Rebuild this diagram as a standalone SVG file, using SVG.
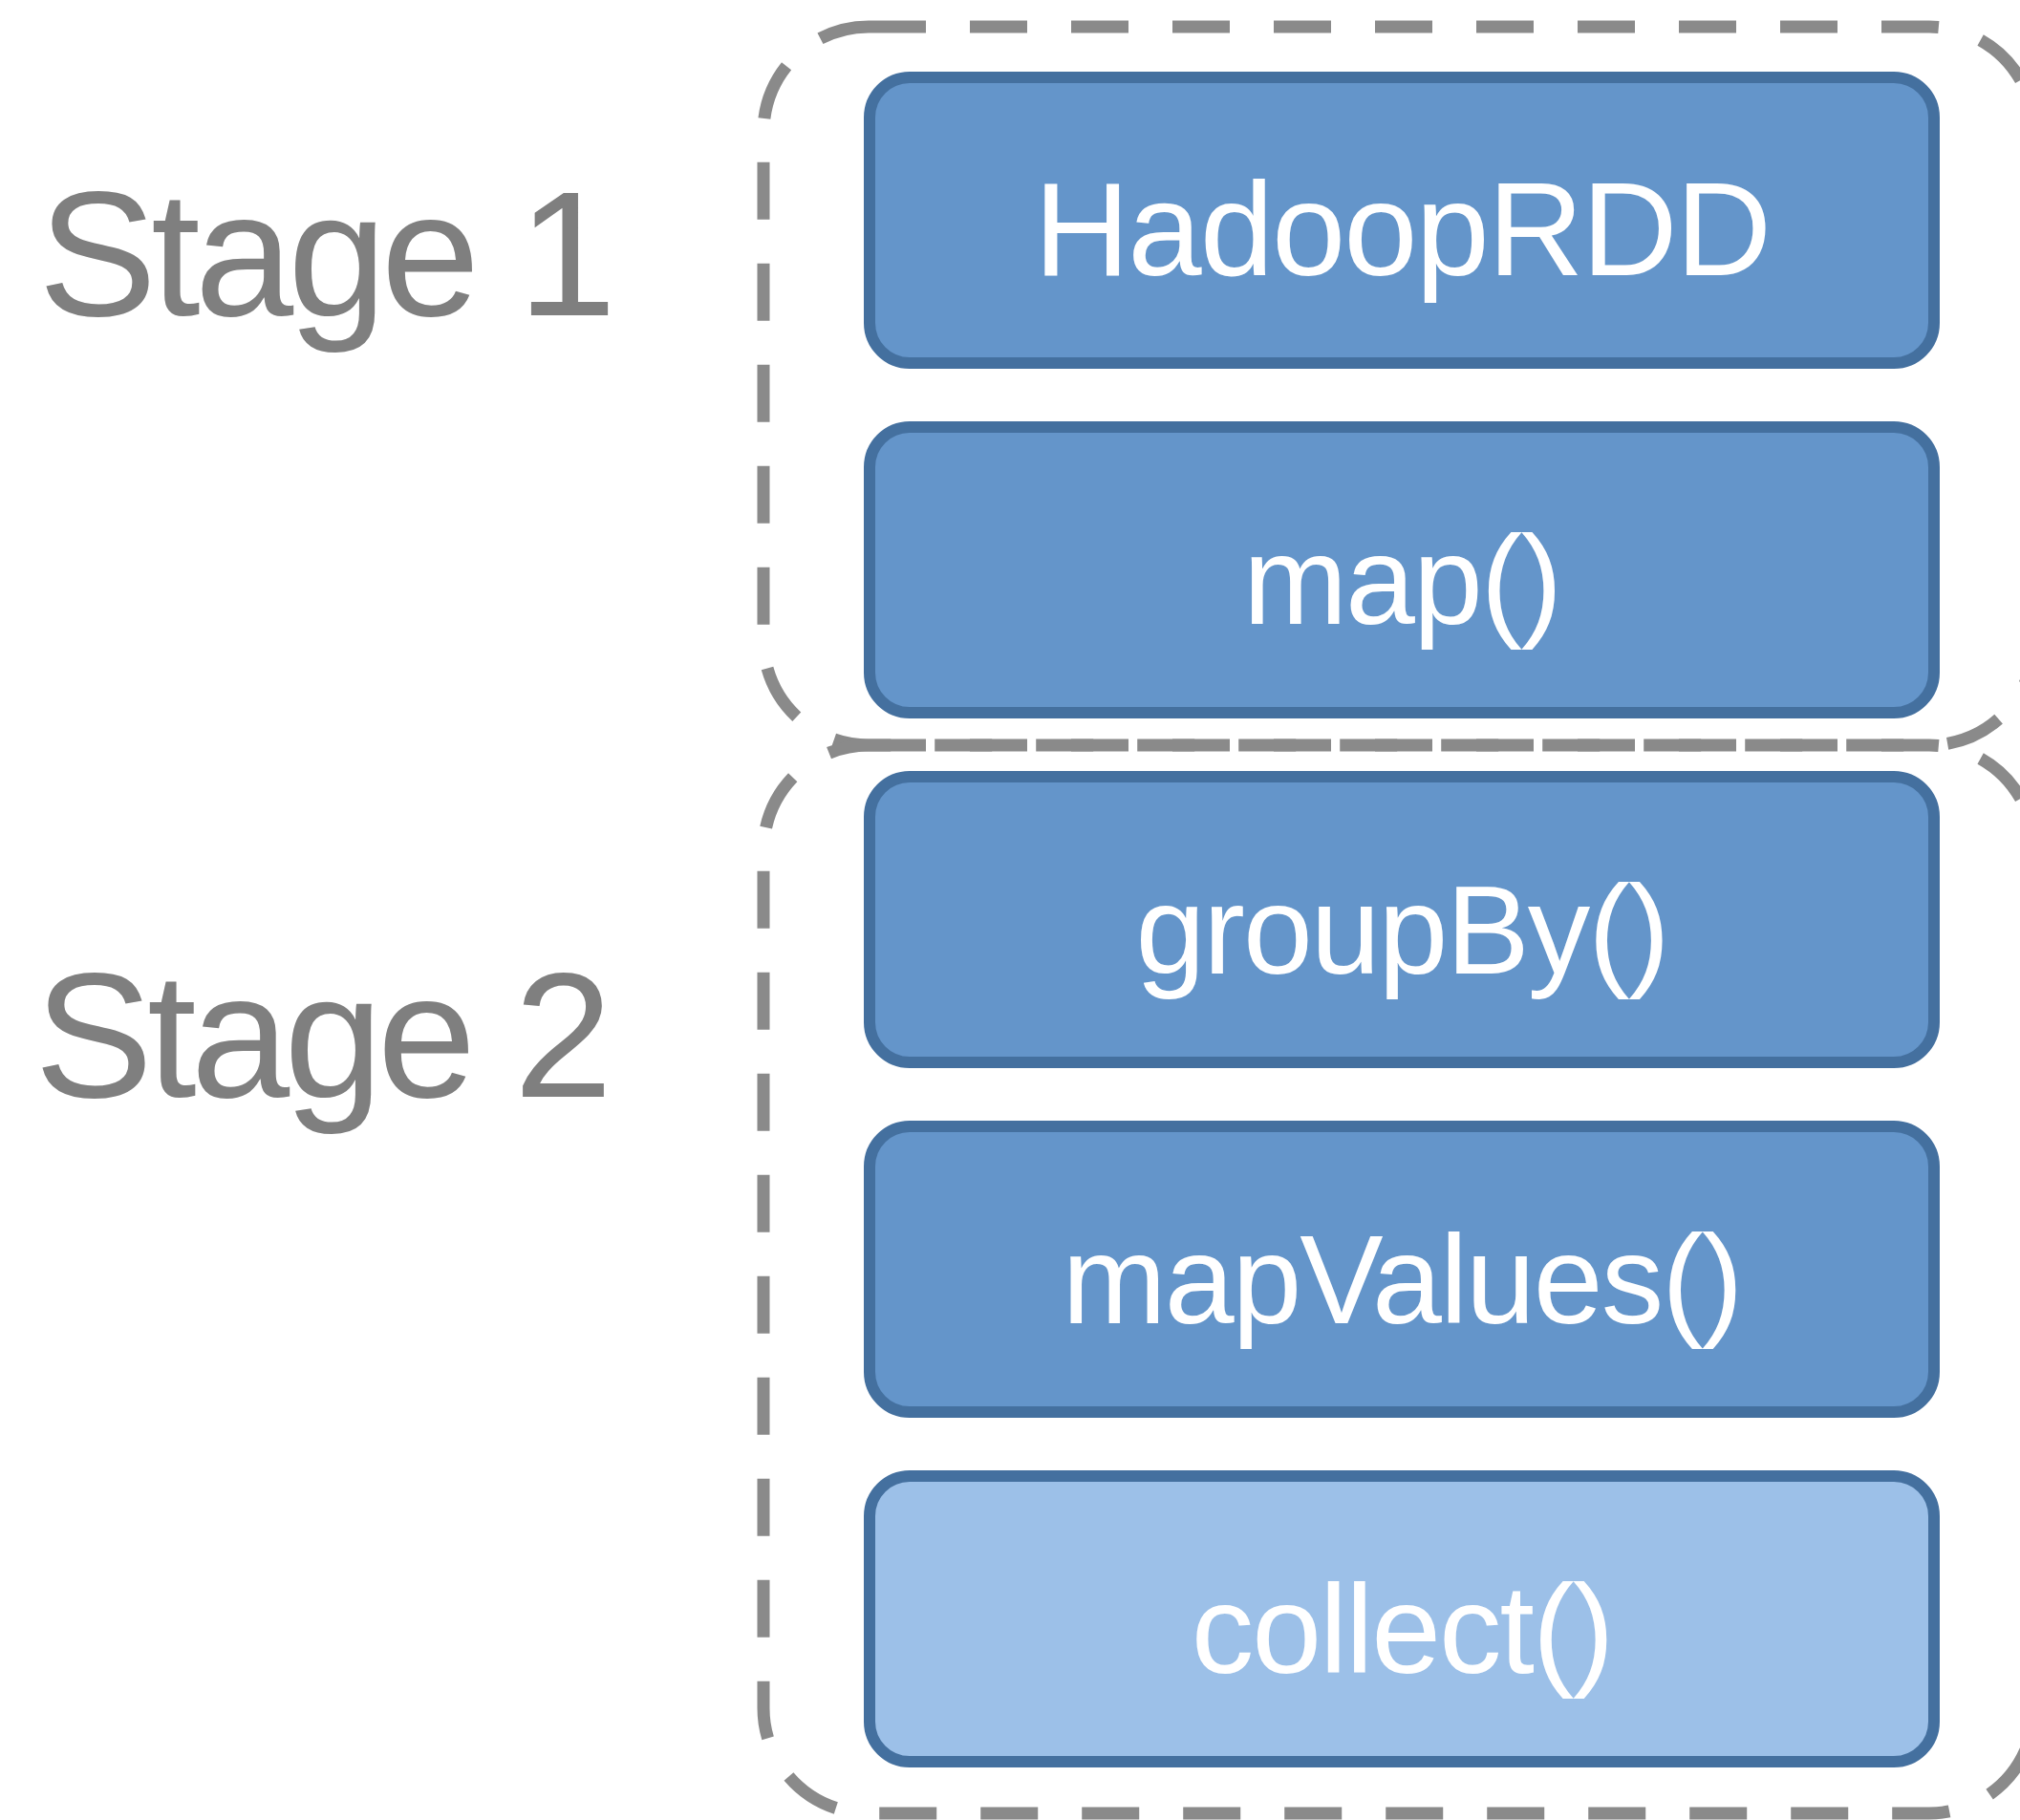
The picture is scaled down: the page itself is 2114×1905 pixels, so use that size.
<svg xmlns="http://www.w3.org/2000/svg" width="2114" height="1905" viewBox="0 0 2114 1905">
  <style>
    .stage-frame { fill: none; stroke: #8a8a8a; stroke-width: 13; stroke-dasharray: 60 46; }
    .stage-label { font-family: "Liberation Sans", Arial, Helvetica, sans-serif; font-size: 186px; fill: #7f7f7f; letter-spacing: -6px; }
    .rdd { fill: #6495ca; stroke: #44709f; stroke-width: 12; }
    .rdd.final { fill: #9cc0e8; }
    .rdd-label { font-family: "Liberation Sans", Arial, Helvetica, sans-serif; font-size: 131px; fill: #ffffff; text-anchor: middle; letter-spacing: -2px; }
    .rdd-label.big { font-size: 139px; }
  </style>
  <rect width="2114" height="1905" fill="#ffffff"/>

  <!-- stage boundaries -->
  <g id="stage-frames">
    <rect id="stage1-frame" class="stage-frame" x="799" y="28" width="1330" height="752" rx="110" ry="110"/>
    <rect id="stage2-frame" class="stage-frame" x="799" y="780" width="1330" height="1118" rx="110" ry="110"/>
  </g>

  <!-- stage labels -->
  <g id="stage1-label">
    <text class="stage-label" x="40" y="330">Stage 1</text>
  </g>
  <g id="stage2-label">
    <text class="stage-label" x="36" y="1148">Stage 2</text>
  </g>

  <!-- RDD chain -->
  <g id="node-hadooprdd">
    <rect class="rdd" x="910" y="81" width="1114" height="299" rx="42" ry="42"/>
    <text class="rdd-label big" x="1467" y="288">HadoopRDD</text>
  </g>
  <g id="node-map">
    <rect class="rdd" x="910" y="447" width="1114" height="299" rx="42" ry="42"/>
    <text class="rdd-label" x="1467" y="653">map()</text>
  </g>
  <g id="node-groupby">
    <rect class="rdd" x="910" y="813" width="1114" height="299" rx="42" ry="42"/>
    <text class="rdd-label" x="1467" y="1019">groupBy()</text>
  </g>
  <g id="node-mapvalues">
    <rect class="rdd" x="910" y="1179" width="1114" height="299" rx="42" ry="42"/>
    <text class="rdd-label" x="1467" y="1385">mapValues()</text>
  </g>
  <g id="node-collect">
    <rect class="rdd final" x="910" y="1545" width="1114" height="299" rx="42" ry="42"/>
    <text class="rdd-label" x="1467" y="1751">collect()</text>
  </g>

  <!-- no connectors are drawn between the stacked RDDs -->
  <g id="connectors"/>
</svg>
